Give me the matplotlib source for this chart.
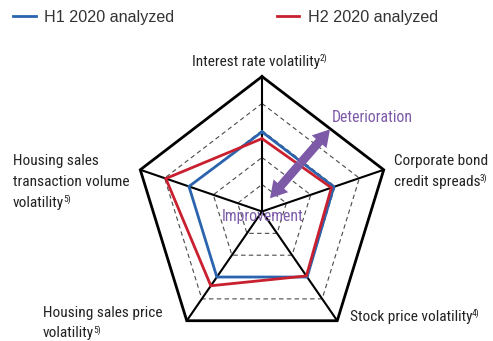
import numpy as np
import matplotlib
matplotlib.use("Agg")
import matplotlib.pyplot as plt
from matplotlib.patches import FancyArrowPatch

# ---- data -------------------------------------------------------------
axis_label_lines = [
    ["Interest rate volatility"],
    ["Corporate bond", "credit spreads"],
    ["Stock price volatility"],
    ["Housing sales price", "volatility"],
    ["Housing sales", "transaction volume", "volatility"],
]
axis_footnotes = ["2)", "3)", "4)", "5)", "5)"]
series_names = ["H1 2020 analyzed", "H2 2020 analyzed"]
h1_values = [0.59, 0.59, 0.60, 0.60, 0.60]
h2_values = [0.54, 0.57, 0.59, 0.68, 0.79]
grid_levels = [0.2, 0.4, 0.6, 0.8]
outer_level = 1.0

# ---- style ------------------------------------------------------------
BLUE = "#2b64ae"
RED = "#c9202f"
PURPLE = "#7d5aa8"
TEXT = "#222222"
NARROW = ["Roboto Condensed", "DejaVu Sans"]
LABEL_SIZE = 11.1
SUP_SIZE = 6.8
LINE_PITCH = 21.0  # pixels between label baselines

W, H = 493, 341
fig = plt.figure(figsize=(W / 100, H / 100), dpi=100)
ax = fig.add_axes([0, 0, 1, 1])

# radar centre and radius (pixels); x slightly compressed
CX, CY, RX, RY = 262.0, 211.5, 128.0, 135.0
ax.set_xlim(-CX / RX, (W - CX) / RX)
ax.set_ylim((CY - H) / RY, CY / RY)
ax.axis("off")


def px(x, y):
    """pixel position -> data position"""
    return (x - CX) / RX, (CY - y) / RY


n = len(axis_label_lines)
theta = 2 * np.pi * np.arange(n) / n
ux, uy = np.sin(theta), np.cos(theta)


def ring(values):
    v = np.asarray(values, dtype=float)
    xs = np.append(v * ux, v[0] * ux[0])
    ys = np.append(v * uy, v[0] * uy[0])
    return xs, ys


# grid
for lv in grid_levels:
    xs, ys = ring([lv] * n)
    ax.plot(xs, ys, color="#4a4a4a", lw=0.8, ls=(0, (4, 3)), zorder=1)
for k in range(n):
    ax.plot([0, outer_level * ux[k]], [0, outer_level * uy[k]],
            color="black", lw=1.5, zorder=2, solid_capstyle="butt")
xs, ys = ring([outer_level] * n)
ax.plot(xs, ys, color="black", lw=2.0, zorder=2, solid_joinstyle="miter")

# series
for vals, col, name in [(h1_values, BLUE, series_names[0]),
                        (h2_values, RED, series_names[1])]:
    xs, ys = ring(vals)
    ax.plot(xs, ys, color=col, lw=2.0, zorder=3, label=name,
            solid_joinstyle="miter")

# axis labels: (x, first baseline, alignment) in pixels
label_specs = [
    (256.0, 66.0, "center"),
    (394.0, 165.0, "left"),
    (350.0, 321.0, "left"),
    (43.0, 316.5, "left"),
    (13.0, 165.0, "left"),
]
for lines, note, (x, y0, ha) in zip(axis_label_lines, axis_footnotes,
                                    label_specs):
    last = None
    for i, line in enumerate(lines):
        last = ax.text(*px(x, y0 + i * LINE_PITCH), line, ha=ha,
                       va="baseline", fontsize=LABEL_SIZE, family=NARROW,
                       color=TEXT, zorder=5)
    base_y = px(x, y0 + (len(lines) - 1) * LINE_PITCH)[1]
    ax.annotate(note, xy=(1, base_y), xycoords=(last, "data"),
                xytext=(-0.6, 3.5), textcoords="offset points",
                ha="left", va="baseline", fontsize=SUP_SIZE,
                family=NARROW, color=TEXT, zorder=5)

# deterioration / improvement arrow
p_lo = px(270.0, 198.3)
p_hi = px(330.0, 129.3)
mid = ((p_lo[0] + p_hi[0]) / 2, (p_lo[1] + p_hi[1]) / 2)
style = "simple,head_length=0.85,head_width=1.0,tail_width=0.45"
for tip in (p_lo, p_hi):
    ax.add_patch(FancyArrowPatch(mid, tip, arrowstyle=style,
                                 mutation_scale=14, color=PURPLE, lw=0,
                                 shrinkA=0, shrinkB=0, zorder=6))
ax.text(*px(331.5, 117.3), "Deterioration", ha="left", va="center",
        fontsize=11.3, family=NARROW, color=PURPLE, zorder=6)
ax.text(*px(262.5, 217.0), "Improvement", ha="center", va="center",
        fontsize=11.3, family=NARROW, color=PURPLE, zorder=6)

# legend
leg = ax.legend(loc="upper left", bbox_to_anchor=(13 / W, 1 - 10 / H),
                bbox_transform=fig.transFigure, ncol=2, frameon=False,
                borderpad=0, borderaxespad=0, handlelength=1.4,
                handletextpad=0.55, columnspacing=6.35,
                prop={"family": "Liberation Sans", "size": 11.6})
for t in leg.get_texts():
    t.set_color("#333333")

fig.savefig("out.png", dpi=100)
